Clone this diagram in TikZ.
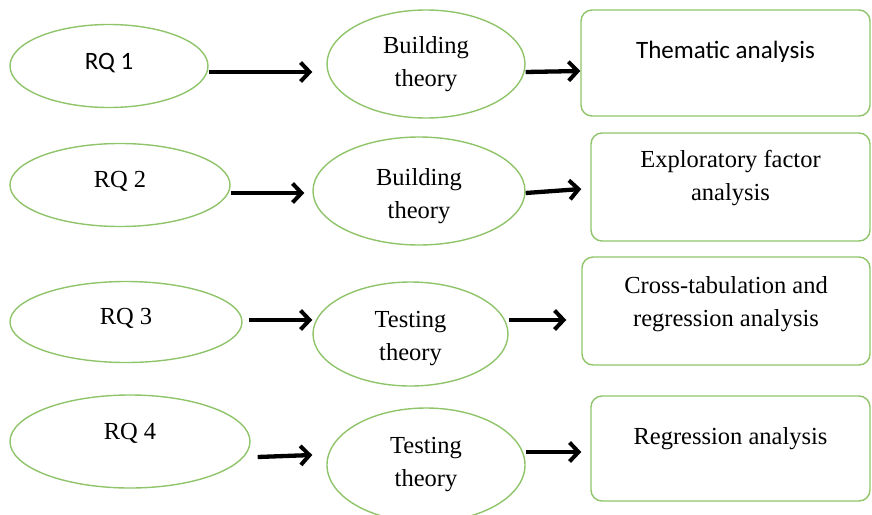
\documentclass[tikz,border=0pt]{standalone}
\usepackage{fontspec}
\setmainfont{Liberation Serif}
\newfontfamily\calibri{Carlito}
\usetikzlibrary{shapes.geometric,arrows.meta}

\definecolor{leaf}{RGB}{143,196,106}

\tikzset{
  oval/.style={ellipse, draw=leaf, line width=1.4pt, inner sep=0pt},
  panel/.style={rectangle, rounded corners=11pt, draw=leaf, line width=1.4pt, inner sep=0pt},
  label serif/.style={font=\fontsize{24.5}{33}\selectfont, align=center, inner sep=0pt},
  label sans/.style={font=\calibri\fontsize{25}{33}\selectfont, align=center, inner sep=0pt},
  flow/.style={line width=4.3pt, -{Straight Barb[length=9pt,width=19pt,line width=4pt]}}
}

\begin{document}
\begin{tikzpicture}[x=1pt,y=-1pt]
\useasboundingbox (0,0) rectangle (872,514);

% row 1
\node[oval, minimum width=198pt, minimum height=83pt] (rq1) at (109,66) {};
\node[label sans] (rq1t) at ([yshift=3pt]rq1.center) {RQ 1};
\node[oval, minimum width=198pt, minimum height=108pt] (bt1) at (426,64) {};
\node[label serif] (bt1t) at (bt1.center) {Building\\theory};
\node[panel, minimum width=289pt, minimum height=106pt] (res1) at (725.5,63) {};
\node[label sans] (res1t) at ([yshift=11pt]res1.center) {Thematic analysis};

% row 2
\node[oval, minimum width=220pt, minimum height=83pt] (rq2) at (120,185) {};
\node[label serif] (rq2t) at ([yshift=4pt]rq2.center) {RQ 2};
\node[oval, minimum width=212pt, minimum height=108pt] (bt2) at (419,191) {};
\node[label serif] (bt2t) at ([yshift=-5pt]bt2.center) {Building\\theory};
\node[panel, minimum width=279pt, minimum height=108pt] (res2) at (730.5,187) {};
\node[label serif] (res2t) at ([yshift=9pt]res2.center) {Exploratory factor\\analysis};

% row 3
\node[oval, minimum width=232pt, minimum height=81pt] (rq3) at (126,322) {};
\node[label serif] (rq3t) at ([yshift=4pt]rq3.center) {RQ 3};
\node[oval, minimum width=195pt, minimum height=104pt] (tt3) at (410.5,334) {};
\node[label serif] (tt3t) at ([yshift=-5pt]tt3.center) {Testing\\theory};
\node[panel, minimum width=288pt, minimum height=108pt] (res3) at (726,311) {};
\node[label serif] (res3t) at ([yshift=7pt]res3.center) {Cross-tabulation and\\regression analysis};

% row 4
\node[oval, minimum width=240pt, minimum height=93pt] (rq4) at (130,441.5) {};
\node[label serif] (rq4t) at ([yshift=8pt]rq4.center) {RQ 4};
\node[oval, minimum width=198pt, minimum height=114pt] (tt4) at (426,465) {};
\node[label serif] (tt4t) at (tt4.center) {Testing\\theory};
\node[panel, minimum width=279pt, minimum height=105pt] (res4) at (730.5,448.5) {};
\node[label serif] (res4t) at ([yshift=10pt]res4.center) {Regression analysis};

% connectors
\draw[flow] ([yshift=-6pt]rq1.east) -- ([xshift=-14pt,yshift=-8pt]bt1.west);
\draw[flow] ([yshift=-8pt]bt1.east) -- ([yshift=-8pt]res1.west);

\draw[flow] ([yshift=-8pt]rq2.east) -- ([xshift=-8pt,yshift=-2pt]bt2.west);
\draw[flow] ([yshift=-2pt]bt2.east) -- ([xshift=-9pt,yshift=-2pt]res2.west);

\draw[flow] ([xshift=6pt,yshift=2pt]rq3.east) -- ([yshift=14pt]tt3.west);
\draw[flow] ([yshift=14pt]tt3.east) -- ([xshift=-15pt,yshift=-9pt]res3.west);

\draw[flow] ([xshift=7pt,yshift=-15.5pt]rq4.east) -- ([xshift=-14pt,yshift=10pt]tt4.west);
\draw[flow] ([yshift=13pt]tt4.east) -- ([xshift=-9pt,yshift=-3.5pt]res4.west);
\end{tikzpicture}
\end{document}
